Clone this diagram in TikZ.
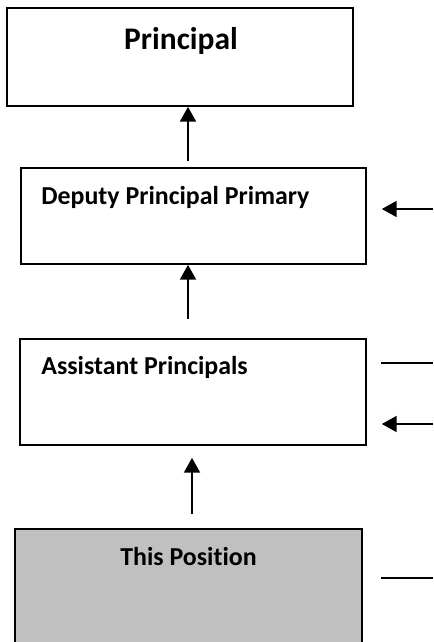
\documentclass[tikz,border=0pt]{standalone}
\usepackage{fontspec}
\setmainfont{Carlito}[Ligatures=NoCommon]
\usepackage{tikz}
\usetikzlibrary{arrows.meta, positioning}
\definecolor{posgray}{HTML}{C0C0C0}

\begin{document}
\begin{tikzpicture}[x=0.75pt, y=-0.75pt,
    box/.style={rectangle, draw, line width=1.3pt, inner sep=0pt},
    lbl/.style={inner sep=0pt, font=\bfseries\fontsize{19.4}{22}\selectfont},
    link/.style={line width=1pt},
    up/.style={line width=1pt, -{Triangle[length=11pt, width=12pt]}}]
    % Frame
    \useasboundingbox (0,0) rectangle (433,642);
    \clip (0,0) rectangle (433,642);

    % Nodes
    \node (principal) [box, minimum width=259.5pt, minimum height=73.5pt] at (180,57) {};
    \node (deputy) [box, minimum width=258.75pt, minimum height=72pt] at (193.5,216) {};
    \node (assistant) [box, minimum width=259.5pt, minimum height=79.5pt] at (193,392) {};
    \node (position) [box, fill=posgray, minimum width=260.25pt, minimum height=113.25pt] at (188.5,604.5) {};

    % Titles
    \node (principaltitle) [lbl, anchor=base, font=\bfseries\fontsize{23.6}{27}\selectfont] at ([xshift=0.75pt, yshift=-32pt]principal.north) {Principal};
    \node (deputytitle) [lbl, anchor=base west] at ([xshift=15.75pt, yshift=-27.75pt]deputy.north west) {Deputy Principal Primary};
    \node (assistanttitle) [lbl, anchor=base west] at ([xshift=16.5pt, yshift=-27pt]assistant.north west) {Assistant Principals};
    \node (positiontitle) [lbl, anchor=base] at ([yshift=-27.75pt]position.north) {This Position};

    % Reporting lines
    \coordinate (up1) at (188,161);
    \coordinate (up2) at (188,319);
    \coordinate (up3) at (192,514);
    \draw[up] (up1) -- (up1 |- principal.south);
    \draw[up] (up2) -- (up2 |- deputy.south);
    \draw[up] (up3) -- ([yshift=-9pt]up3 |- assistant.south);

    % Side links
    \coordinate (side1) at (433,209);
    \coordinate (side2) at (433,363);
    \coordinate (side3) at (433,424);
    \coordinate (side4) at (433,578);
    \draw[up] (side1) -- ([xshift=11.25pt]side1 -| deputy.east);
    \draw[link] (side2) -- ([xshift=10.5pt]side2 -| assistant.east);
    \draw[up] (side3) -- ([xshift=11.25pt]side3 -| assistant.east);
    \draw[link] (side4) -- ([xshift=13.5pt]side4 -| position.east);

\end{tikzpicture}
\end{document}
